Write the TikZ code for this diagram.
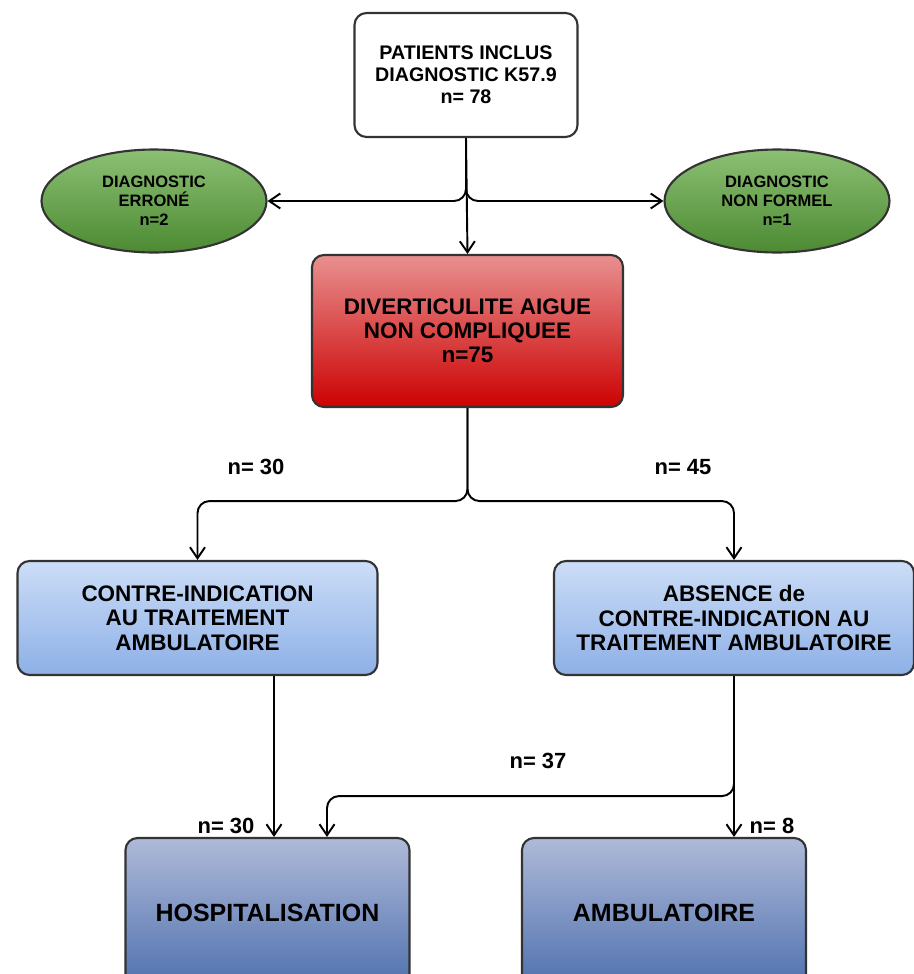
\documentclass[tikz,border=0pt]{standalone}
\usepackage{fontspec}
\setmainfont{Liberation Sans}
\usetikzlibrary{arrows.meta,shapes.geometric}
\definecolor{boxline}{HTML}{333333}
\definecolor{greentop}{HTML}{8CC074}
\definecolor{greenbot}{HTML}{4C8A32}
\definecolor{redtop}{HTML}{E99090}
\definecolor{redbot}{HTML}{CC0202}
\definecolor{bluetop}{HTML}{CCDDF7}
\definecolor{bluebot}{HTML}{8DB0E6}
\definecolor{slatetop}{HTML}{AEBAD8}
\definecolor{slatebot}{HTML}{4F70AE}
\begin{document}
\begin{tikzpicture}[
    base/.style={draw=boxline, line width=1.2pt, rounded corners=0.24cm, align=center, font=\bfseries},
    start/.style={base, fill=white, minimum width=4.46cm, minimum height=2.48cm, font=\fontsize{11.2}{12.5}\selectfont\bfseries},
    excl/.style={ellipse, draw=boxline, line width=1.2pt, align=center, top color=greentop, bottom color=greenbot, minimum width=4.5cm, minimum height=2.06cm, font=\fontsize{9.4}{10.8}\selectfont\bfseries},
    main/.style={base, top color=redtop, bottom color=redbot, minimum width=6.22cm, minimum height=3.04cm, font=\fontsize{12.8}{13.8}\selectfont\bfseries},
    group/.style={base, top color=bluetop, bottom color=bluebot, minimum width=7.2cm, minimum height=2.28cm, font=\fontsize{12.8}{14}\selectfont\bfseries},
    result/.style={base, top color=slatetop, bottom color=slatebot, minimum width=5.68cm, minimum height=3.0cm, font=\fontsize{14.2}{16}\selectfont\bfseries},
    count/.style={font=\fontsize{12.5}{14}\selectfont\bfseries},
    arr/.style={-{Straight Barb[length=2.2mm, width=3mm]}, line width=1.1pt, rounded corners=0.24cm}
]
    \useasboundingbox (0,0) rectangle (18.26,-19.48);

    % Boxes
    \node[start] (inc) at (9.32,-1.5) {PATIENTS INCLUS\\DIAGNOSTIC K57.9\\n= 78};
    \node[excl] (err) at (3.08,-4.02) {DIAGNOSTIC\\ERRONÉ\\n=2};
    \node[excl] (nf) at (15.54,-4.02) {DIAGNOSTIC\\NON FORMEL\\n=1};
    \node[main] (dac) at (9.35,-6.62) {DIVERTICULITE AIGUE\\NON COMPLIQUEE\\n=75};
    \node[group] (ci) at (3.95,-12.36) {CONTRE-INDICATION\\AU TRAITEMENT\\AMBULATOIRE};
    \node[group] (aci) at (14.68,-12.36) {ABSENCE de\\CONTRE-INDICATION AU\\TRAITEMENT AMBULATOIRE};
    \node[result] (hosp) at (5.35,-18.26) {HOSPITALISATION};
    \node[result] (amb) at (13.28,-18.26) {AMBULATOIRE};

    % Arrows
    \draw[arr] (inc.south) |- (err.east);
    \draw[arr] (inc.south) |- (nf.west);
    \draw[arr] (inc.south) -- (dac.north);
    \draw[arr] (dac.south) -- ++(0,-1.86) -| (ci.north);
    \draw[arr] (dac.south) -- ++(0,-1.86) -| (aci.north);
    \coordinate (h1) at ([xshift=0.13cm]hosp.north);
    \coordinate (h2) at ([xshift=1.19cm]hosp.north);
    \draw[arr] (ci.south -| h1) -- (h1);
    \draw[arr] (aci.south) -- (aci.south |- amb.north);
    \draw[arr] (aci.south) -- ++(0,-2.4) -| (h2);

    % Counts
    \node[count] (n30a) at (5.12,-9.34) {n= 30};
    \node[count] (n45) at (13.66,-9.34) {n= 45};
    \node[count] (n37) at (10.76,-15.22) {n= 37};
    \node[count] (n30b) at (4.52,-16.52) {n= 30};
    \node[count] (n8) at (15.44,-16.52) {n= 8};
\end{tikzpicture}
\end{document}
